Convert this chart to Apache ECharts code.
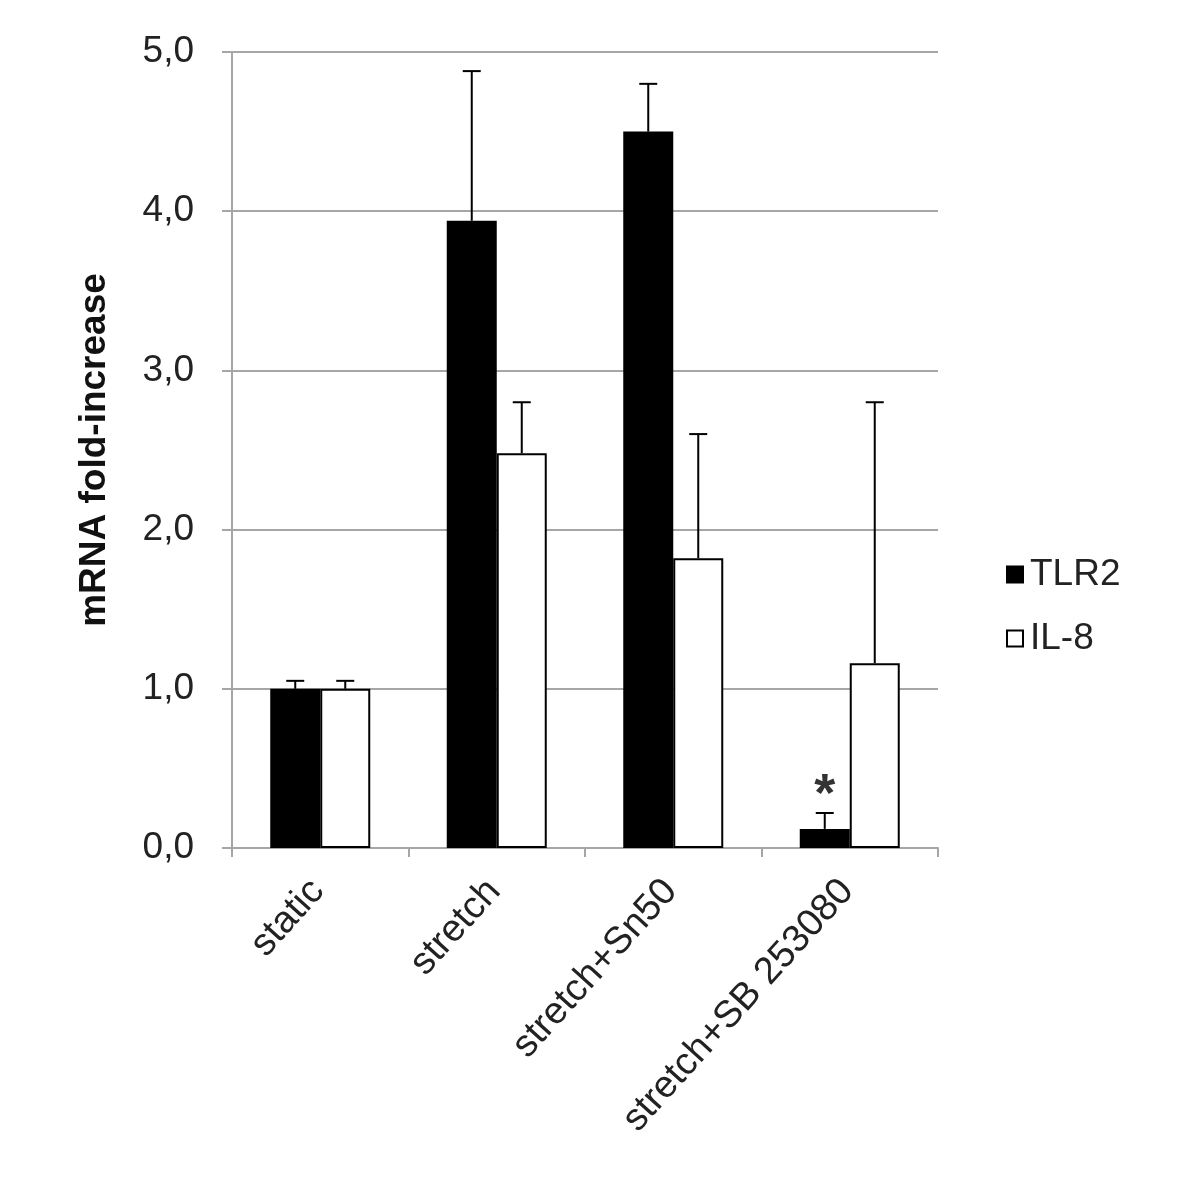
<!DOCTYPE html>
<html><head><meta charset="utf-8">
<script src="https://cdn.jsdelivr.net/npm/echarts@6/dist/echarts.min.js"></script>
<style>html,body{margin:0;padding:0;background:#fff}#c{width:1200px;height:1196px}</style>
</head><body><div id="c"></div>
<script>
const categories = ['static', 'stretch', 'stretch+Sn50', 'stretch+SB 253080'];
const tlr2 = [1.00, 3.94, 4.50, 0.12];
const tlr2Err = [0.05, 0.94, 0.30, 0.10];
const il8 = [1.00, 2.48, 1.82, 1.16];
const il8Err = [0.05, 0.32, 0.78, 1.64];
const significance = ['', '', '', '*'];
const yTicks = [0, 1, 2, 3, 4, 5];

const FONT = 'Liberation Sans, Arial, sans-serif';
const TXT = '#222';
const BAR_W = 50;

function errSeries(name, vals, errs, offset, marks) {
  return {
    type: 'custom', name: name + '_err', silent: true, z: 5,
    data: vals.map((v, i) => [i, v, v + errs[i]]),
    renderItem: function (params, api) {
      const i = api.value(0);
      const base = api.coord([i, api.value(1)]);
      const top = api.coord([i, api.value(2)]);
      const x = base[0] + offset;
      const cap = 9;
      const children = [
        { type: 'line', shape: { x1: x, y1: base[1], x2: x, y2: top[1] }, style: { stroke: '#000', lineWidth: 2 } },
        { type: 'line', shape: { x1: x - cap, y1: top[1], x2: x + cap, y2: top[1] }, style: { stroke: '#000', lineWidth: 2 } }
      ];
      if (marks && marks[i]) {
        children.push({ type: 'text', x: x, y: top[1] + 10, style: { text: marks[i], fill: '#333', font: 'bold 54px ' + FONT, align: 'center', verticalAlign: 'bottom' } });
      }
      return { type: 'group', children: children };
    }
  };
}

const chart = echarts.init(document.getElementById('c'));
chart.setOption({
  backgroundColor: '#fff',
  animation: false,
  grid: { left: 232, right: 262, top: 52, bottom: 348 },
  legend: {
    orient: 'vertical', left: 1001, top: 551, itemGap: 27,
    itemWidth: 16, itemHeight: 16, icon: 'rect',
    textStyle: { fontFamily: FONT, fontSize: 37, color: TXT, padding: [0, 0, 0, 2] },
    data: ['TLR2', 'IL-8']
  },
  xAxis: {
    type: 'category', data: categories,
    axisLine: { lineStyle: { color: '#a6a6a6', width: 2 } },
    axisTick: { show: true, length: 9, lineStyle: { color: '#a6a6a6', width: 2 } },
    axisLabel: { rotate: 48, margin: 34, fontFamily: FONT, fontSize: 38, color: TXT, interval: 0, padding: [0, 4, 0, 0] }
  },
  yAxis: {
    type: 'value', min: 0, max: 5, interval: 1,
    name: 'mRNA fold-increase', nameLocation: 'middle', nameRotate: 90, nameGap: 119,
    nameTextStyle: { fontFamily: FONT, fontSize: 37, fontWeight: 'bold', color: '#111' },
    axisLine: { show: true, lineStyle: { color: '#a6a6a6', width: 2 } },
    axisTick: { show: true, length: 10, lineStyle: { color: '#a6a6a6', width: 2 } },
    splitLine: { lineStyle: { color: '#a6a6a6', width: 2 } },
    axisLabel: { margin: 38, fontFamily: FONT, fontSize: 37, color: TXT,
      formatter: v => yTicks.includes(v) ? v.toFixed(1).replace('.', ',') : '' }
  },
  series: [
    { name: 'TLR2', type: 'bar', data: tlr2, barWidth: BAR_W, barGap: '0%', z: 3,
      itemStyle: { color: '#000', borderColor: '#000', borderWidth: 2 } },
    { name: 'IL-8', type: 'bar', data: il8, barWidth: BAR_W, barGap: '0%', z: 3,
      itemStyle: { color: '#fff', borderColor: '#000', borderWidth: 2 } },
    errSeries('TLR2', tlr2, tlr2Err, -BAR_W / 2, significance),
    errSeries('IL-8', il8, il8Err, BAR_W / 2, null)
  ]
});
</script></body></html>
